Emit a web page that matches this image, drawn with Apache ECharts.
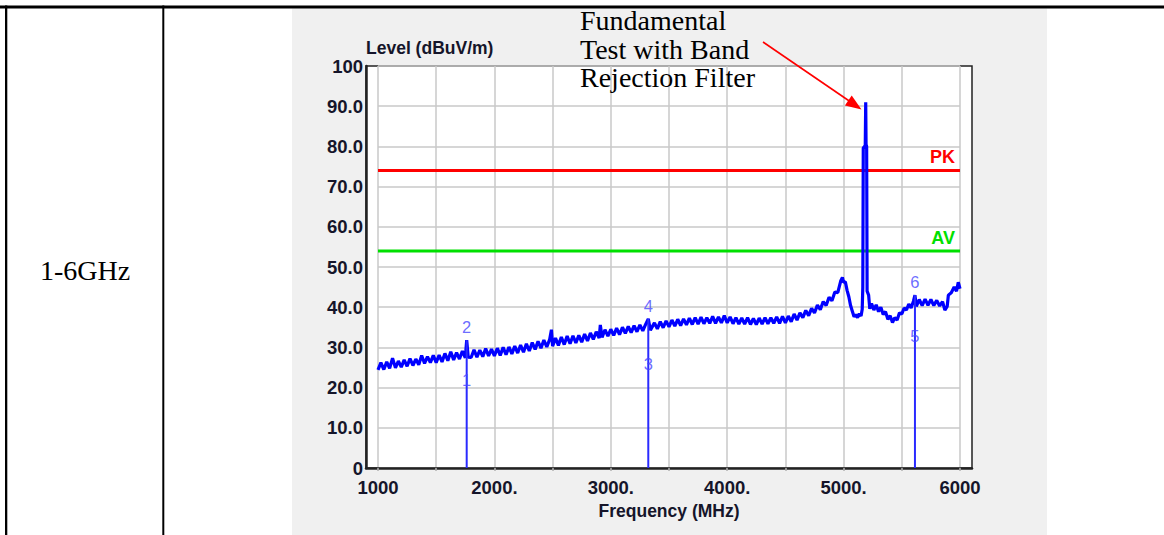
<!DOCTYPE html>
<html><head><meta charset="utf-8">
<script src="https://cdn.jsdelivr.net/npm/echarts@6/dist/echarts.min.js"></script>
<style>html,body{margin:0;padding:0;background:#fff;overflow:hidden}#c{width:1164px;height:535px}</style>
</head><body><div id="c"></div>
<script>
// ---- data ----
const bandLabel = '1-6GHz';
const noteText = ['Fundamental', 'Test with Band', 'Rejection Filter'];
const xTickValues = [1000, 2000, 3000, 4000, 5000, 6000];
const xTickLabels = ['1000', '2000.', '3000.', '4000.', '5000.', '6000'];
const yTickValues = [0, 10, 20, 30, 40, 50, 60, 70, 80, 90, 100];
const yTickLabels = ['0', '10.0', '20.0', '30.0', '40.0', '50.0', '60.0', '70.0', '80.0', '90.0', '100'];
const limitNames = ['PK', 'AV'];
const limitLevels = [74, 54];
const markerNames = ['1', '2', '3', '4', '5', '6'];
const markerFreqs = [1762, 1762, 3322, 3322, 5613, 5613];
const markerLevels = [18.7, 31.8, 22.6, 37.1, 29.6, 43.0];
const markerLineFreqs = [1762, 3322, 5613];
const markerLineTops = [31.8, 37.1, 43.0];
const trace = [
[1000,24.4],[1025,26.2],[1050,24.5],[1075,26.4],[1100,24.8],[1125,27.3],[1150,24.9],[1175,26.6],[1200,25.1],[1225,26.9],
[1250,25.3],[1275,27.2],[1300,25.5],[1325,27.1],[1350,25.7],[1375,28.0],[1400,26.0],[1425,27.7],[1450,26.2],[1475,28.0],[1500,26.2],
[1525,28.1],[1550,26.4],[1575,28.5],[1600,26.7],[1625,28.9],[1650,26.9],[1675,28.7],[1700,27.1],[1725,29.1],[1750,27.4],
[1762,31.8],[1775,27.6],[1800,27.5],[1825,29.4],[1850,27.6],[1875,29.3],[1900,27.7],[1925,29.7],[1950,27.9],[1975,29.6],[2000,27.9],
[2025,29.8],[2050,28.0],[2075,30.0],[2100,28.2],[2125,30.1],[2150,28.4],[2175,30.3],[2200,28.6],[2225,30.6],[2250,28.8],
[2275,30.9],[2300,29.1],[2325,31.2],[2350,29.5],[2375,31.5],[2400,29.8],[2425,31.8],[2450,30.1],[2475,32.0],[2490,34.4],[2500,30.3],
[2525,32.3],[2550,30.5],[2575,32.6],[2600,30.7],[2625,32.8],[2650,30.9],[2675,32.9],[2700,31.1],[2725,33.0],[2750,31.3],
[2775,33.3],[2800,31.6],[2825,33.6],[2850,32.0],[2875,33.9],[2900,32.3],[2910,35.6],[2925,32.5],[2950,34.4],[2975,32.8],[3000,34.5],
[3025,33.0],[3050,34.8],[3075,33.2],[3100,35.0],[3125,33.5],[3150,35.2],[3175,33.7],[3200,35.4],[3225,33.9],[3250,35.6],
[3275,34.1],[3300,35.8],[3322,37.1],[3340,34.3],[3375,36.1],[3400,34.6],[3425,36.4],[3450,34.9],[3475,36.6],[3500,35.1],
[3525,36.8],[3550,35.3],[3575,37.0],[3600,35.4],[3625,37.1],[3650,35.6],[3675,37.3],[3700,35.7],[3725,37.4],[3750,35.8],
[3775,37.5],[3800,35.9],[3825,37.4],[3850,36.0],[3875,37.7],[3900,36.0],[3925,37.6],[3950,36.1],[3975,37.9],[4000,36.1],
[4025,37.6],[4050,35.9],[4075,37.4],[4100,35.8],[4125,37.3],[4150,35.8],[4175,37.4],[4200,35.7],[4225,37.2],[4250,35.7],
[4275,37.3],[4300,35.8],[4325,37.4],[4350,35.9],[4375,37.4],[4400,36.0],[4425,37.6],[4450,36.0],[4475,37.7],[4500,36.1],
[4525,37.8],[4550,36.4],[4575,38.3],[4600,36.8],[4625,38.6],[4650,37.4],[4675,39.2],[4700,37.9],[4725,39.7],[4750,38.6],
[4775,40.5],[4800,39.4],[4825,41.4],[4850,40.4],[4875,42.5],[4900,41.6],[4925,43.8],[4950,43.6],[4975,46.5],[4990,47.4],[5000,46.2],
[5015,46.3],[5030,44.2],[5045,42.6],[5060,40.4],[5075,39.0],[5090,37.6],[5105,38.2],[5120,37.4],[5135,38.4],[5150,37.8],
[5160,39.5],[5165,45.0],[5169,79.6],[5186,80.2],[5190,91.0],[5193,80.5],[5198,80.0],[5202,44.0],[5215,43.0],[5225,39.6],
[5240,40.9],[5260,39.3],[5280,40.6],[5300,38.9],[5320,40.0],[5340,38.2],[5360,38.9],[5380,37.0],[5400,37.9],[5420,36.2],
[5440,37.4],[5460,36.8],[5480,38.6],[5500,38.3],[5520,39.8],[5540,39.3],[5560,40.8],[5580,39.8],[5600,41.5],[5613,43.0],
[5625,40.2],[5650,41.9],[5675,40.4],[5700,42.0],[5725,40.5],[5750,41.9],[5775,40.4],[5800,41.7],[5825,40.3],[5850,41.4],
[5870,39.3],[5890,40.2],[5900,43.0],[5925,43.6],[5950,45.0],[5970,44.0],[5985,46.2],[6000,44.6]
];

// ---- chart ----
const axisFont = {fontFamily: '"Liberation Sans", Arial, sans-serif', fontWeight: 'bold', fontSize: 18.5, color: '#15152a'};
const chart = echarts.init(document.getElementById('c'), null, {renderer: 'svg'});
const limitColors = ['#ff0000', '#00e000'];

const limitSeries = limitNames.map((n, i) => ({
  type: 'line', xAxisIndex: 1, yAxisIndex: 1, z: 3,
  symbol: 'circle', symbolSize: 0.1, showSymbol: true,
  lineStyle: {color: limitColors[i], width: 3},
  itemStyle: {color: limitColors[i]},
  data: [[1000, limitLevels[i]], {value: [6000, limitLevels[i]], label: {
    show: true, formatter: n, position: 'top', align: 'right', distance: 4, offset: [-5, 0],
    fontFamily: '"Liberation Sans", Arial, sans-serif', fontWeight: 'bold', fontSize: 18, color: limitColors[i]
  }}]
}));

chart.setOption({
  animation: false,
  backgroundColor: 'transparent',
  grid: [
    {left: 366, top: 66, width: 606, height: 402, show: true, backgroundColor: '#ffffff', borderColor: '#222', borderWidth: 1.5},
    {left: 378, top: 66, width: 582, height: 402}
  ],
  xAxis: [
    {type: 'value', gridIndex: 0, min: 0, max: 1, axisLabel: {show: false}, axisTick: {show: false}, splitLine: {show: false},
     axisLine: {show: true, lineStyle: {color: '#222', width: 2.5}}},
    {type: 'value', gridIndex: 1, min: 1000, max: 6000, interval: 500,
     name: 'Frequency (MHz)', nameLocation: 'middle', nameGap: 28,
     nameTextStyle: Object.assign({}, axisFont, {fontSize: 17.5}),
     axisLine: {show: false},
     axisTick: {show: true, length: 3, lineStyle: {color: '#b0b0b0', width: 1.5}},
     axisLabel: Object.assign({margin: 10, formatter: v => { const k = xTickValues.indexOf(v); return k >= 0 ? xTickLabels[k] : ''; }}, axisFont),
     splitLine: {show: true, lineStyle: {color: '#c8c8c8', width: 1.5}}}
  ],
  yAxis: [
    {type: 'value', gridIndex: 0, min: 0, max: 100, interval: 10,
     name: 'Level (dBuV/m)', nameLocation: 'end', nameGap: 6,
     nameTextStyle: Object.assign({}, axisFont, {fontSize: 17.5, align: 'left'}),
     axisLine: {show: true, lineStyle: {color: '#222', width: 2.5}},
     axisTick: {show: false},
     axisLabel: Object.assign({margin: 3, formatter: v => { const k = yTickValues.indexOf(v); return k >= 0 ? yTickLabels[k] : ''; }}, axisFont),
     splitLine: {show: false}},
    {type: 'value', gridIndex: 1, min: 0, max: 100, interval: 10,
     axisLine: {show: false}, axisTick: {show: false}, axisLabel: {show: false},
     splitLine: {show: true, lineStyle: {color: '#c8c8c8', width: 1.5}}}
  ],
  series: [
    ...limitSeries,
    {type: 'line', xAxisIndex: 1, yAxisIndex: 1, z: 4, symbol: 'none',
     lineStyle: {color: '#0000ff', width: 3.2, join: 'bevel'}, data: trace},
    {type: 'custom', xAxisIndex: 1, yAxisIndex: 1, z: 5,
     data: markerLineFreqs.map((f, i) => [f, markerLineTops[i]]),
     encode: {x: 0, y: 1},
     renderItem: (params, api) => {
       const p0 = api.coord([api.value(0), 0]);
       const p1 = api.coord([api.value(0), api.value(1)]);
       return {type: 'line', shape: {x1: p0[0], y1: p0[1], x2: p1[0], y2: p1[1]}, style: {stroke: '#2a2aff', lineWidth: 2}};
     }},
    {type: 'scatter', xAxisIndex: 1, yAxisIndex: 1, z: 6, symbolSize: 1,
     itemStyle: {color: 'rgba(0,0,0,0)'},
     data: markerFreqs.map((f, i) => ({value: [f, markerLevels[i]], name: markerNames[i]})),
     label: {show: true, position: 'top', distance: 4, formatter: p => p.name,
       fontFamily: '"Liberation Sans", Arial, sans-serif', fontSize: 16.5, color: '#4646ff'}}
  ],
  graphic: [
    {type: 'rect', z: -10, shape: {x: 292, y: 8.5, width: 755, height: 527}, style: {fill: '#f0f0f0'}},
    {type: 'rect', z: 50, shape: {x: 0, y: 5.5, width: 1164, height: 3}, style: {fill: '#000'}},
    {type: 'rect', z: 50, shape: {x: 5, y: 5.5, width: 2.3, height: 530}, style: {fill: '#000'}},
    {type: 'rect', z: 50, shape: {x: 162.3, y: 5.5, width: 2, height: 530}, style: {fill: '#000'}},
    {type: 'text', z: 50, x: 85, y: 270, style: {text: bandLabel, font: '28px "Liberation Serif", "Times New Roman", serif', fill: '#000', align: 'center', verticalAlign: 'middle'}},
    {type: 'text', z: 100, x: 580, y: 6.5, style: {text: noteText.join('\n'), font: '28px "Liberation Serif", "Times New Roman", serif', lineHeight: 28.5, fill: '#000', align: 'left', verticalAlign: 'top'}},
    {type: 'line', z: 100, shape: {x1: 763, y1: 42, x2: 850, y2: 101.5}, style: {stroke: '#ff0000', lineWidth: 1.6}},
    {type: 'polygon', z: 100, shape: {points: [[861.5, 109.5], [844.9, 105.5], [851.7, 95.5]]}, style: {fill: '#ff0000'}}
  ]
});
</script>
</body></html>
